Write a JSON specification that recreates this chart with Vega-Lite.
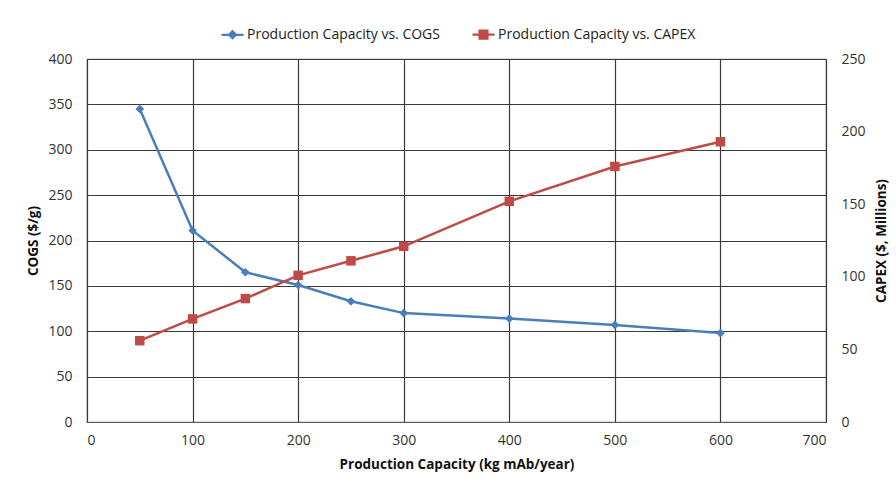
{
  "$schema": "https://vega.github.io/schema/vega-lite/v6.json",
  "width": 739,
  "height": 363,
  "autosize": {"type": "none"},
  "padding": {"left": 87, "top": 59, "right": 70, "bottom": 62},
  "background": "white",
  "config": {
    "font": "Open Sans",
    "view": {"stroke": "#7a7a7a", "strokeWidth": 1.2},
    "axis": {
      "labelFont": "Open Sans",
      "labelFontSize": 14,
      "labelColor": "#333333",
      "titleFont": "Open Sans",
      "titleFontSize": 13.5,
      "titleFontWeight": "bold",
      "titleColor": "#111111",
      "gridColor": "#3a3a3a",
      "gridOpacity": 1,
      "gridWidth": 1.2,
      "ticks": false,
      "domain": false
    }
  },
  "data": {
    "values": [
      {"cap": 50, "series": "Production Capacity vs. COGS", "value": 345},
      {"cap": 100, "series": "Production Capacity vs. COGS", "value": 211},
      {"cap": 150, "series": "Production Capacity vs. COGS", "value": 165},
      {"cap": 200, "series": "Production Capacity vs. COGS", "value": 151},
      {"cap": 250, "series": "Production Capacity vs. COGS", "value": 133},
      {"cap": 300, "series": "Production Capacity vs. COGS", "value": 120},
      {"cap": 400, "series": "Production Capacity vs. COGS", "value": 114},
      {"cap": 500, "series": "Production Capacity vs. COGS", "value": 107},
      {"cap": 600, "series": "Production Capacity vs. COGS", "value": 98},
      {"cap": 50, "series": "Production Capacity vs. CAPEX", "value": 56},
      {"cap": 100, "series": "Production Capacity vs. CAPEX", "value": 71},
      {"cap": 150, "series": "Production Capacity vs. CAPEX", "value": 85},
      {"cap": 200, "series": "Production Capacity vs. CAPEX", "value": 101},
      {"cap": 250, "series": "Production Capacity vs. CAPEX", "value": 111},
      {"cap": 300, "series": "Production Capacity vs. CAPEX", "value": 121},
      {"cap": 400, "series": "Production Capacity vs. CAPEX", "value": 152},
      {"cap": 500, "series": "Production Capacity vs. CAPEX", "value": 176},
      {"cap": 600, "series": "Production Capacity vs. CAPEX", "value": 193}
    ]
  },
  "encoding": {
    "x": {
      "field": "cap",
      "type": "quantitative",
      "scale": {"domain": [0, 700], "nice": false, "zero": true},
      "axis": {
        "title": "Production Capacity (kg mAb/year)",
        "values": [0, 100, 200, 300, 400, 500, 600, 700],
        "grid": true,
        "domain": true,
        "domainColor": "#5a5a5a",
        "domainWidth": 1.2,
        "labelPadding": 11,
        "titlePadding": 10
      }
    }
  },
  "layer": [
    {
      "transform": [{"filter": "datum.series == 'Production Capacity vs. COGS'"}],
      "mark": {
        "type": "line",
        "color": "#4A7EBB",
        "strokeWidth": 2.5,
        "point": {"shape": "diamond", "size": 75, "filled": true, "opacity": 1, "color": "#4A7EBB"}
      },
      "encoding": {
        "y": {
          "field": "value",
          "type": "quantitative",
          "scale": {"domain": [0, 400], "nice": false},
          "axis": {
            "orient": "left",
            "title": "COGS ($/g)",
            "values": [0, 50, 100, 150, 200, 250, 300, 350, 400],
            "grid": true,
            "labelPadding": 15,
            "titlePadding": 7
          }
        }
      }
    },
    {
      "transform": [{"filter": "datum.series == 'Production Capacity vs. CAPEX'"}],
      "mark": {
        "type": "line",
        "color": "#BE4B48",
        "strokeWidth": 2.5,
        "point": {"shape": "square", "size": 90, "filled": true, "opacity": 1, "color": "#BE4B48"}
      },
      "encoding": {
        "y": {
          "field": "value",
          "type": "quantitative",
          "scale": {"domain": [0, 250], "nice": false},
          "axis": {
            "orient": "right",
            "title": "CAPEX ($, Millions)",
            "titleAngle": 270,
            "titleBaseline": "top",
            "values": [0, 50, 100, 150, 200, 250],
            "grid": false,
            "labelPadding": 15,
            "titlePadding": 9
          }
        }
      }
    },
    {
      "transform": [{"filter": "datum.series == 'none'"}],
      "mark": {"type": "point", "filled": true, "opacity": 1, "strokeWidth": 2},
      "encoding": {
        "y": {"field": "value", "type": "quantitative", "axis": null, "scale": {"domain": [0, 400]}},
        "fill": {
          "field": "series",
          "type": "nominal",
          "scale": {"domain": ["Production Capacity vs. COGS", "Production Capacity vs. CAPEX"], "range": ["#4A7EBB", "#BE4B48"]},
          "legend": {"orient": "none", "legendX": 133, "legendY": -37, "direction": "horizontal", "title": null, "symbolSize": 484, "symbolStrokeWidth": 2.2, "symbolOpacity": 1, "labelFontSize": 14, "labelColor": "#222222", "labelFont": "Open Sans", "columnPadding": 28, "labelOffset": 2, "labelLimit": 400}
        },
        "stroke": {
          "field": "series",
          "type": "nominal",
          "scale": {"domain": ["Production Capacity vs. COGS", "Production Capacity vs. CAPEX"], "range": ["#4A7EBB", "#BE4B48"]},
          "legend": {"orient": "none", "legendX": 133, "legendY": -37, "direction": "horizontal", "title": null, "symbolSize": 484, "symbolStrokeWidth": 2.2, "symbolOpacity": 1, "labelFontSize": 14, "labelColor": "#222222", "labelFont": "Open Sans", "columnPadding": 28, "labelOffset": 2, "labelLimit": 400}
        },
        "shape": {
          "field": "series",
          "type": "nominal",
          "scale": {"domain": ["Production Capacity vs. COGS", "Production Capacity vs. CAPEX"], "range": ["M-1,0L1,0M0,-0.32L0.32,0L0,0.32L-0.32,0Z", "M-1,0L1,0M-0.36,-0.36L0.36,-0.36L0.36,0.36L-0.36,0.36Z"]},
          "legend": {"orient": "none", "legendX": 133, "legendY": -37, "direction": "horizontal", "title": null, "symbolSize": 484, "symbolStrokeWidth": 2.2, "symbolOpacity": 1, "labelFontSize": 14, "labelColor": "#222222", "labelFont": "Open Sans", "columnPadding": 28, "labelOffset": 2, "labelLimit": 400}
        }
      }
    }
  ],
  "resolve": {"scale": {"y": "independent"}}
}
